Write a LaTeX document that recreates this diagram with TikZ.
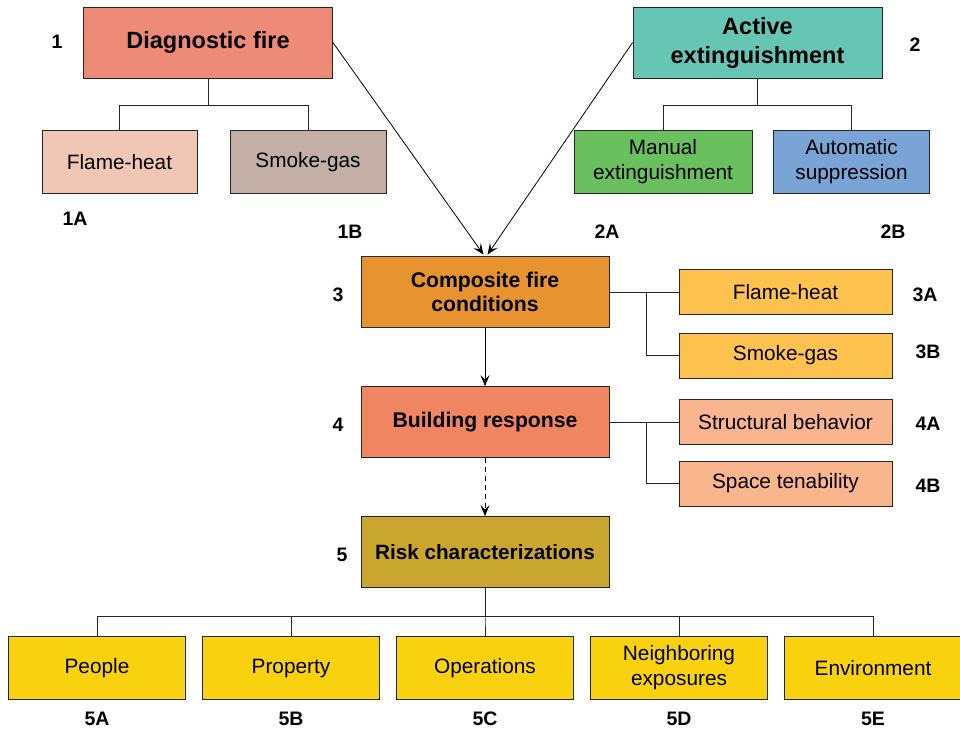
\documentclass[tikz,border=0pt]{standalone}
\usepackage{fontspec}
\setmainfont{Liberation Sans}
\usetikzlibrary{arrows.meta,calc}

\definecolor{cDiag}{HTML}{ED8A78}
\definecolor{cFlameA}{HTML}{F0C7B4}
\definecolor{cSmokeA}{HTML}{C4AFA7}
\definecolor{cActive}{HTML}{66C6B3}
\definecolor{cManual}{HTML}{6ABF5E}
\definecolor{cAuto}{HTML}{7BA4D6}
\definecolor{cComp}{HTML}{E69330}
\definecolor{cCompSub}{HTML}{FEC24E}
\definecolor{cBuild}{HTML}{F08562}
\definecolor{cBuildSub}{HTML}{F9B58E}
\definecolor{cRisk}{HTML}{C9A72F}
\definecolor{cRiskSub}{HTML}{F9D20F}

\tikzset{
  box/.style={draw=black!85, line width=0.8pt, align=center, inner sep=2pt},
  topbox/.style={box, minimum width=249pt, minimum height=71pt,
    font=\fontsize{23.5}{29}\selectfont\bfseries},
  stagebox/.style={box, minimum width=248pt, minimum height=71pt,
    font=\fontsize{21.2}{24}\selectfont\bfseries},
  subbox/.style={box, minimum height=63pt, font=\fontsize{20.8}{25}\selectfont},
  sidebox/.style={box, minimum width=213pt, minimum height=45pt,
    font=\fontsize{20.8}{25}\selectfont},
  tag/.style={font=\fontsize{19.5}{22}\selectfont\bfseries, inner sep=0pt},
  link/.style={line width=0.8pt, black!85},
  arr/.style={line width=0.8pt, -{Stealth[length=11pt,width=9pt,inset=4.5pt]}},
}

\begin{document}
\begin{tikzpicture}[x=1pt,y=-1pt]
\useasboundingbox[fill=white] (0,0) rectangle (960,730);

% --- diagnostic fire branch
\node[topbox, fill=cDiag, minimum width=249pt] (diag) at (208,42.5) {Diagnostic fire};
\node[subbox, fill=cFlameA, minimum width=155pt] (fh1) at (119.5,162) {Flame-heat};
\node[subbox, fill=cSmokeA, minimum width=156pt] (sg1) at (308,162) {Smoke-gas};

% --- active extinguishment branch
\node[topbox, fill=cActive] (act) at (757.5,42.5) {Active\\extinguishment};
\node[subbox, fill=cManual, minimum width=178pt] (man) at (663,162) {Manual\\extinguishment};
\node[subbox, fill=cAuto, minimum width=156pt] (aut) at (851.5,162) {Automatic\\suppression};

% --- main chain
\node[stagebox, fill=cComp] (comp) at (485,292) {Composite fire\\conditions};
\node[stagebox, fill=cBuild] (bld) at (485,422) {Building response};
\node[stagebox, fill=cRisk, font=\fontsize{20.7}{24}\selectfont\bfseries] (risk) at (485,552) {Risk characterizations};

% --- side boxes
\node[sidebox, fill=cCompSub] (fh3) at (785.5,292) {Flame-heat};
\node[sidebox, fill=cCompSub] (sg3) at (785.5,355.5) {Smoke-gas};
\node[sidebox, fill=cBuildSub] (str) at (785.5,422) {Structural behavior};
\node[sidebox, fill=cBuildSub] (spc) at (785.5,483.5) {Space tenability};

% --- risk outcomes
\foreach \n/\x/\t in {pe/97/People, pr/291/Property, op/485/Operations,
                      ne/679/{Neighboring\\exposures}, en/873/Environment}
  \node[subbox, fill=cRiskSub, minimum width=177pt] (\n) at (\x,668) {\t};

% --- tree connectors
\foreach \n in {fh1,sg1} \draw[link] (diag.south) -- ++(0,27) -| (\n.north);
\foreach \n in {man,aut} \draw[link] (act.south) -- ++(0,27) -| (\n.north);
\foreach \n in {pe,pr,op,ne,en} \draw[link] (risk.south) -- ++(0,28) -| (\n.north);

\draw[link] (comp.east) -- (fh3.west);
\draw[link] ($(comp.east)!0.53!(fh3.west)$) |- (sg3.west);
\draw[link] (bld.east) -- (str.west);
\draw[link] ($(bld.east)!0.53!(str.west)$) |- (spc.west);

% --- flow arrows
\draw[arr] (diag.east) -- ([xshift=-1.5pt,yshift=1.5pt]comp.north);
\draw[arr] (act.west) -- ([xshift=2.5pt,yshift=1.5pt]comp.north);
\draw[arr] (comp.south) -- (bld.north);
\draw[arr, dashed, dash pattern=on 5pt off 4pt] (bld.south) -- (risk.north);

% --- reference tags
\node[tag] (t1)  at (57,42)   {1};
\node[tag] (t1a) at (75,219)  {1A};
\node[tag] (t1b) at (350,232) {1B};
\node[tag] (t2)  at (915,45)  {2};
\node[tag] (t2a) at (607,232) {2A};
\node[tag] (t2b) at (893,232) {2B};
\node[tag] (t3)  at (338,295) {3};
\node[tag] (t3a) at (925,295) {3A};
\node[tag] (t3b) at (928,352) {3B};
\node[tag] (t4)  at (338,425) {4};
\node[tag] (t4a) at (928,424) {4A};
\node[tag] (t4b) at (928,486) {4B};
\node[tag] (t5)  at (342,555) {5};
\foreach \n/\x in {5A/97, 5B/291, 5C/485, 5D/679, 5E/873}
  \node[tag] (t\n) at (\x,719) {\n};
\end{tikzpicture}
\end{document}
